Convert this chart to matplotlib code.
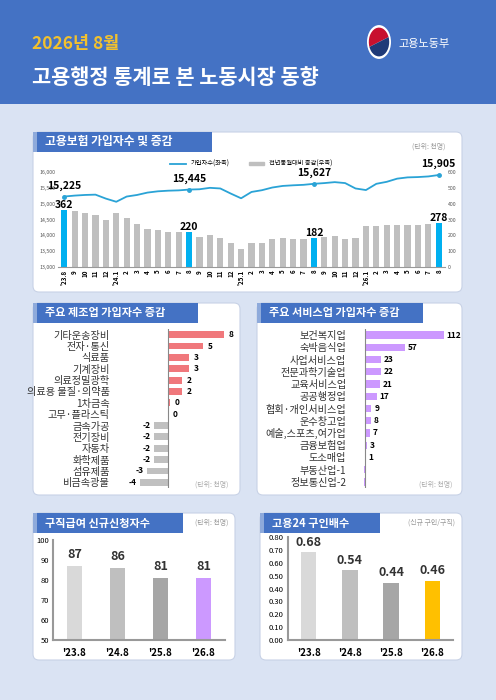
import matplotlib
matplotlib.use("Agg")
import matplotlib.pyplot as plt
from matplotlib.patches import FancyBboxPatch, Rectangle, Wedge, Circle, Patch
from matplotlib.lines import Line2D

plt.rcParams['font.family'] = ['Noto Sans CJK KR', 'DejaVu Sans']

# --- data ---
months = ["'23.8", "9", "10", "11", "12", "'24.1", "2", "3", "4", "5", "6", "7", "8",
          "9", "10", "11", "12", "'25.1", "2", "3", "4", "5", "6", "7", "8",
          "9", "10", "11", "12", "'26.1", "2", "3", "4", "5", "6", "7", "8"]
insured = [15225, 15255, 15275, 15285, 15160, 15060, 15225, 15275, 15350, 15390, 15410, 15420, 15445,
           15455, 15500, 15480, 15320, 15170, 15370, 15425, 15510, 15560, 15580, 15595, 15627,
           15650, 15680, 15650, 15480, 15430, 15627, 15690, 15790, 15830, 15840, 15860, 15905]
yoy = [362, 356, 340, 330, 296, 338, 310, 270, 240, 236, 222, 220, 220,
       190, 205, 186, 154, 114, 152, 152, 180, 184, 180, 176, 182,
       188, 195, 176, 182, 260, 256, 266, 266, 266, 264, 274, 278]
highlight = [0, 12, 24, 36]

mfg_names = ["기타운송장비", "전자·통신", "식료품", "기계장비", "의료정밀광학", "의료용 물질·의약품", "1차금속",
             "고무·플라스틱", "금속가공", "전기장비", "자동차", "화학제품", "섬유제품", "비금속광물"]
mfg_vals = [8, 5, 3, 3, 2, 2, 0.3, 0, -2, -2, -2, -2, -3, -4]
mfg_labels = ["8", "5", "3", "3", "2", "2", "0", "0", "-2", "-2", "-2", "-2", "-3", "-4"]

svc_names = ["보건복지업", "숙박음식업", "사업서비스업", "전문과학기술업", "교육서비스업", "공공행정업",
             "협회·개인서비스업", "운수창고업", "예술,스포츠,여가업", "금융보험업", "도소매업", "부동산업", "정보통신업"]
svc_vals = [112, 57, 23, 22, 21, 17, 9, 8, 7, 3, 1, -1, -2]

claim_years = ["'23.8", "'24.8", "'25.8", "'26.8"]
claims = [87, 86, 81, 81]
ratio_years = ["'23.8", "'24.8", "'25.8", "'26.8"]
ratios = [0.68, 0.54, 0.44, 0.46]

W, H = 496, 700
fig = plt.figure(figsize=(W / 100, H / 100), dpi=100)
fig.patch.set_facecolor('#dae3f3')
BLUE = '#4472c4'


def fr(x0, y0, x1, y1):
    # pixel box -> figure rect
    return [x0 / W, 1 - y1 / H, (x1 - x0) / W, (y1 - y0) / H]


def fx(x):
    return x / W


def fy(y):
    return 1 - y / H


def panel(x0, y0, x1, y1):
    fig.patches.append(FancyBboxPatch((fx(x0), fy(y1)), (x1 - x0) / W, (y1 - y0) / H,
                                      boxstyle="round,pad=0,rounding_size=0.012", mutation_aspect=W / H,
                                      transform=fig.transFigure, facecolor='white', edgecolor='#c8d2e6',
                                      lw=0.8, zorder=-2))


def tab(x0, y0, x1, y1, text, size=9):
    fig.patches.append(Rectangle((fx(x0), fy(y1)), (x1 - x0) / W, (y1 - y0) / H,
                                 transform=fig.transFigure, facecolor=BLUE, edgecolor='none', zorder=-1))
    fig.patches.append(Rectangle((fx(x0), fy(y1)), 4 / W, (y1 - y0) / H,
                                 transform=fig.transFigure, facecolor='#8eaadb', edgecolor='none', zorder=-1))
    fig.text(fx(x0 + 12), fy((y0 + y1) / 2), text, color='white', fontsize=size, fontweight='bold', va='center')


# header
fig.patches.append(Rectangle((0, fy(104)), 1, 104 / H, transform=fig.transFigure, facecolor=BLUE, zorder=-2))
fig.text(fx(32), fy(44), "2026년 8월", color='#f2c12e', fontsize=12.5, fontweight='bold', va='center')
fig.text(fx(32), fy(77), "고용행정 통계로 본 노동시장 동향", color='white', fontsize=15, fontweight='bold', va='center')
cx, cy, r = fx(379), fy(42), 12 / W
fig.patches.append(Circle((cx, cy), r, transform=fig.transFigure, facecolor='white', zorder=-1))
fig.patches.append(Wedge((cx, cy), r * 0.85, 20, 200, transform=fig.transFigure, facecolor='#c8102e', zorder=-1))
fig.patches.append(Wedge((cx, cy), r * 0.85, 200, 380, transform=fig.transFigure, facecolor='#1f3a78', zorder=-1))
fig.text(fx(398), fy(44), "고용노동부", color='white', fontsize=8, va='center')

# panel 1
panel(33, 132, 462, 292)
tab(33, 132, 212, 152, "고용보험 가입자수 및 증감", 8.5)
fig.text(fx(445), fy(147), "(단위: 천명)", fontsize=5, color='#999999', ha='right', va='center')

ax = fig.add_axes(fr(58, 172, 445, 267))
ax2 = ax.twinx()
ax.set_zorder(ax2.get_zorder() + 1)
ax.patch.set_visible(False)
ax2.patch.set_visible(False)
x = list(range(len(months)))
colors = ['#00b0f0' if i in highlight else '#bfbfbf' for i in x]
ax2.bar(x, yoy, width=0.6, color=colors)
ax2.set_ylim(0, 600)
ax2.set_yticks(range(0, 601, 100))
ax.plot(x, insured, color='#2aa3d6', lw=1.3)
ax.plot([x[i] for i in highlight], [insured[i] for i in highlight], 'o', color='#2aa3d6', ms=2.5)
ax.set_ylim(13000, 16000)
ax.set_yticks(range(13000, 16001, 500))
ax.set_yticklabels([f"{v:,}" for v in range(13000, 16001, 500)])
ax.set_xlim(-0.6, len(x) - 0.4)
ax.set_xticks(x)
ax.set_xticklabels(months, rotation=90, fontsize=4.5, fontweight='bold')
for a in (ax, ax2):
    a.tick_params(axis='y', labelsize=3.8, length=0, colors='#555555', pad=2)
    a.tick_params(axis='x', length=0, pad=2)
    for s in a.spines.values():
        s.set_visible(False)
ax.spines['bottom'].set_visible(True)
ax.spines['bottom'].set_color('#999999')
for i in highlight:
    ax.annotate(f"{insured[i]:,}", (x[i], insured[i]), xytext=(0, 4), textcoords='offset points',
                ha='center', va='bottom', fontsize=7.5, fontweight='bold')
    ax2.annotate(f"{yoy[i]}", (x[i], yoy[i]), xytext=(0, 0), textcoords='offset points',
                 ha='center', va='bottom', fontsize=7.5, fontweight='bold')
handles = [Line2D([], [], color='#2aa3d6', lw=1.3), Patch(color='#bfbfbf')]
ax.legend(handles, ['가입자수(좌축)', '전년동월대비 증감(우축)'], loc='lower center',
          bbox_to_anchor=(0.5, 1.0), ncol=2, fontsize=4.5, frameon=False,
          handlelength=2.5, handleheight=0.5, columnspacing=3, borderaxespad=0.3)

# panel 2 left: manufacturing
panel(33, 303, 240, 495)
tab(33, 303, 198, 323, "주요 제조업 가입자수 증감", 8)
axm = fig.add_axes(fr(139, 329, 236, 488))
axm.patch.set_visible(False)
ym = list(range(len(mfg_names)))
axm.barh(ym, mfg_vals, height=0.6, color=['#f0787c' if v > 0 else '#c0c0c0' for v in mfg_vals])
axm.set_ylim(len(ym) - 0.5, -0.5)
axm.set_xlim(-4.2, 9.7)
axm.axvline(0, color='#888888', lw=0.8)
axm.set_yticks(ym)
axm.set_yticklabels(mfg_names, fontsize=7.3, color='#333333')
axm.tick_params(axis='y', length=0, pad=21)
axm.set_xticks([])
for s in axm.spines.values():
    s.set_visible(False)
for yi, v, lab in zip(ym, mfg_vals, mfg_labels):
    if v >= 0:
        axm.text(max(v, 0) + 0.6, yi, lab, fontsize=6, fontweight='bold', va='center', ha='left')
    else:
        axm.text(v - 0.5, yi, lab, fontsize=6, fontweight='bold', va='center', ha='right')
fig.text(fx(228), fy(485), "(단위: 천명)", fontsize=5, color='#aaaaaa', ha='right', va='center')

# panel 2 right: services
panel(257, 303, 462, 495)
tab(257, 303, 423, 323, "주요 서비스업 가입자수 증감", 8)
axs = fig.add_axes(fr(363, 329, 462, 488))
axs.patch.set_visible(False)
ys = list(range(len(svc_names)))
axs.barh(ys, svc_vals, height=0.6, color='#cc99ff')
axs.set_ylim(len(ys) - 0.5, -0.5)
axs.set_xlim(-3, 138)
axs.axvline(0, color='#888888', lw=0.8)
axs.set_yticks(ys)
axs.set_yticklabels([n if v >= 0 else f"{n}{v}" for n, v in zip(svc_names, svc_vals)],
                    fontsize=7.3, color='#333333')
axs.tick_params(axis='y', length=0, pad=12)
axs.set_xticks([])
for s in axs.spines.values():
    s.set_visible(False)
for yi, v in zip(ys, svc_vals):
    if v >= 0:
        axs.text(v + 4, yi, str(v), fontsize=6, fontweight='bold', va='center', ha='left')
fig.text(fx(452), fy(485), "(단위: 천명)", fontsize=5, color='#aaaaaa', ha='right', va='center')

# panel 3 left: claims
panel(33, 513, 235, 660)
tab(33, 513, 183, 533, "구직급여 신규신청자수", 8)
fig.text(fx(228), fy(523), "(단위: 천명)", fontsize=5, color='#999999', ha='right', va='center')
axc = fig.add_axes(fr(53, 540, 225, 640))
xc = list(range(len(claims)))
axc.bar(xc, claims, width=0.37, color=['#d9d9d9', '#bfbfbf', '#a6a6a6', '#cc99ff'])
axc.set_ylim(50, 100)
axc.set_xlim(-0.5, 3.5)
axc.set_yticks(range(50, 101, 10))
axc.set_xticks(xc)
axc.set_xticklabels(claim_years, fontsize=7, fontweight='bold')
for xi, v in zip(xc, claims):
    axc.text(xi, v + 2.5, str(v), ha='center', va='bottom', fontsize=9, fontweight='bold', color='#333333')

# panel 3 right: job offers ratio
panel(260, 513, 462, 660)
tab(260, 513, 380, 533, "고용24 구인배수", 8)
fig.text(fx(455), fy(523), "(신규 구인/구직)", fontsize=5, color='#999999', ha='right', va='center')
axr = fig.add_axes(fr(288, 537, 453, 640))
xr = list(range(len(ratios)))
axr.bar(xr, ratios, width=0.37, color=['#d9d9d9', '#bfbfbf', '#a6a6a6', '#ffc000'])
axr.set_ylim(0, 0.8)
axr.set_xlim(-0.5, 3.5)
axr.set_yticks([i / 10 for i in range(9)])
axr.set_yticklabels([f"{i / 10:.2f}" for i in range(9)])
axr.set_xticks(xr)
axr.set_xticklabels(ratio_years, fontsize=7, fontweight='bold')
for xi, v in zip(xr, ratios):
    axr.text(xi, v + 0.03, f"{v:.2f}", ha='center', va='bottom', fontsize=9, fontweight='bold', color='#333333')

for a in (axc, axr):
    a.patch.set_visible(False)
    a.tick_params(axis='y', labelsize=5.5, length=0, pad=3)
    a.tick_params(axis='x', length=0, pad=6)
    a.spines['top'].set_visible(False)
    a.spines['right'].set_visible(False)
    a.spines['left'].set_color('#999999')
    a.spines['bottom'].set_color('#999999')
    a.spines['left'].set_linewidth(1.5)
    a.spines['bottom'].set_linewidth(1.5)

fig.savefig("out.png", dpi=100, facecolor=fig.get_facecolor())
